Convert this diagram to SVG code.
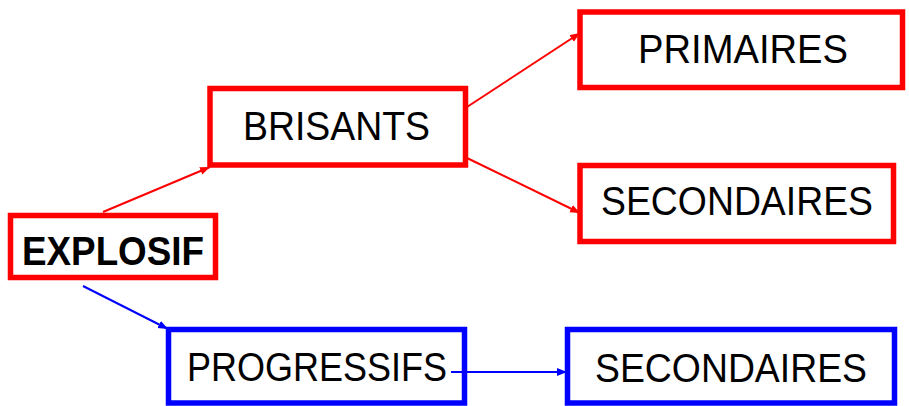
<svg xmlns="http://www.w3.org/2000/svg" width="909" height="406" viewBox="0 0 909 406">
<style>
.box{fill:#fff;stroke-width:5.5}
.red{stroke:#ff0000}
.blue{stroke:#0000ff}
.lbl{font-family:"Liberation Sans",Arial,sans-serif;font-size:41px;fill:#000}
.bold{font-weight:bold}
.conn{fill:none;stroke-width:2}
</style>
<defs>
<marker id="ahr" markerUnits="userSpaceOnUse" markerWidth="12" markerHeight="10" refX="10" refY="4" orient="auto"><path d="M0,0 L10,4 L0,8 z" fill="#ff0000"/></marker>
<marker id="ahb" markerUnits="userSpaceOnUse" markerWidth="12" markerHeight="10" refX="10" refY="4" orient="auto"><path d="M0,0 L10,4 L0,8 z" fill="#0000ff"/></marker>
</defs>
<rect width="909" height="406" fill="#fff"/>
<g id="explosif">
<rect class="box red" x="10.5" y="215.5" width="205" height="62"/>
<text class="lbl bold" x="22" y="265" textLength="182" lengthAdjust="spacingAndGlyphs">EXPLOSIF</text>
</g>
<g id="brisants">
<rect class="box red" x="210" y="88.5" width="255.5" height="76.5"/>
<text class="lbl" x="243" y="140" textLength="187" lengthAdjust="spacingAndGlyphs">BRISANTS</text>
</g>
<g id="primaires">
<rect class="box red" x="580" y="12" width="322.5" height="75.5"/>
<text class="lbl" x="638" y="63" textLength="210" lengthAdjust="spacingAndGlyphs">PRIMAIRES</text>
</g>
<g id="secondaires-red">
<rect class="box red" x="580" y="165.5" width="313.5" height="76"/>
<text class="lbl" x="601" y="215" textLength="272" lengthAdjust="spacingAndGlyphs">SECONDAIRES</text>
</g>
<g id="progressifs">
<rect class="box blue" x="168.5" y="329.5" width="296" height="73.5"/>
<text class="lbl" x="187" y="381" textLength="260" lengthAdjust="spacingAndGlyphs">PROGRESSIFS</text>
</g>
<g id="secondaires-blue">
<rect class="box blue" x="567.5" y="329.5" width="327" height="73.5"/>
<text class="lbl" x="595" y="382" textLength="272" lengthAdjust="spacingAndGlyphs">SECONDAIRES</text>
</g>
<g id="connectors">
<line class="conn red" x1="103" y1="212" x2="210" y2="167" marker-end="url(#ahr)"/>
<line class="conn red" x1="467" y1="107" x2="580" y2="33" marker-end="url(#ahr)"/>
<line class="conn red" x1="467" y1="158" x2="580" y2="213" marker-end="url(#ahr)"/>
<line class="conn blue" x1="83" y1="286" x2="168" y2="329" marker-end="url(#ahb)"/>
<line class="conn blue" x1="451" y1="372" x2="567" y2="372" marker-end="url(#ahb)"/>
</g>
</svg>
